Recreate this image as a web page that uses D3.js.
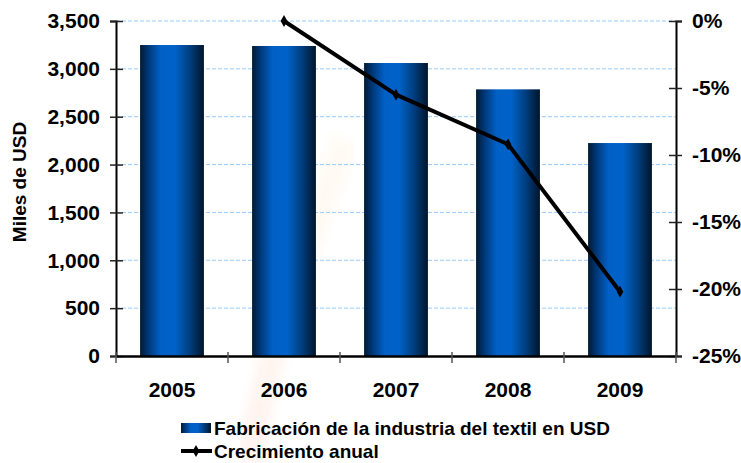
<!DOCTYPE html>
<html>
<head>
<meta charset="utf-8">
<script src="https://cdn.jsdelivr.net/npm/d3@7"></script>
<style>
  body { margin: 0; background: #fff; }
  text { font-family: "Liberation Sans", Arial, sans-serif; font-weight: bold; fill: #000; }
</style>
</head>
<body>
<div id="chart"></div>
<script>
const years = ['2005', '2006', '2007', '2008', '2009'];
const produccion = [3249, 3239, 3061, 2786, 2225];
const crecimiento = [null, 0, -5.5, -9.2, -20.2];
const leftTicks = [0, 500, 1000, 1500, 2000, 2500, 3000, 3500];
const rightTicks = [-25, -20, -15, -10, -5, 0];

const width = 741, height = 463;
const plot = { left: 116, right: 676, top: 21, bottom: 356 };

const svg = d3.select('#chart').append('svg')
  .attr('width', width)
  .attr('height', height);

const defs = svg.append('defs');
const grad = defs.append('linearGradient').attr('id', 'barGrad')
  .attr('x1', '0%').attr('x2', '100%').attr('y1', '0%').attr('y2', '0%');
[['0%', '#001a35'], ['12%', '#003572'], ['32%', '#0060c6'], ['55%', '#0062c8'],
 ['80%', '#003a78'], ['100%', '#00142b']].forEach(s => {
  grad.append('stop').attr('offset', s[0]).attr('stop-color', s[1]);
});
const wm = defs.append('linearGradient').attr('id', 'wmGrad')
  .attr('x1', '0%').attr('x2', '0%').attr('y1', '0%').attr('y2', '100%');
wm.append('stop').attr('offset', '0%').attr('stop-color', '#ffcc66');
wm.append('stop').attr('offset', '100%').attr('stop-color', '#ff5533');
defs.append('filter').attr('id', 'soft')
  .append('feGaussianBlur').attr('stdDeviation', 5);

// faint watermark
svg.append('path')
  .attr('d', 'M250,463 C260,380 300,260 345,140')
  .attr('fill', 'none')
  .attr('stroke', 'url(#wmGrad)')
  .attr('stroke-width', 26)
  .attr('filter', 'url(#soft)')
  .attr('opacity', 0.07);

const x = d3.scaleBand()
  .domain(years)
  .range([plot.left, plot.right])
  .paddingInner(0.43)
  .paddingOuter(0.215);

const y = d3.scaleLinear().domain([0, 3500]).range([plot.bottom, plot.top]);
const y2 = d3.scaleLinear().domain([-25, 0]).range([plot.bottom, plot.top]);

// gridlines
svg.append('g')
  .selectAll('line')
  .data(leftTicks.filter(d => d > 0))
  .enter().append('line')
  .attr('x1', plot.left).attr('x2', plot.right)
  .attr('y1', d => y(d)).attr('y2', d => y(d))
  .attr('stroke', '#99ccff')
  .attr('stroke-width', 1)
  .attr('stroke-dasharray', '4,2');

// bars
svg.append('g')
  .selectAll('rect')
  .data(produccion)
  .enter().append('rect')
  .attr('x', (d, i) => x(years[i]))
  .attr('y', d => y(d))
  .attr('width', x.bandwidth())
  .attr('height', d => y(0) - y(d))
  .attr('fill', 'url(#barGrad)');

// left axis
const yAxis = svg.append('g')
  .attr('transform', `translate(${plot.left},0)`)
  .call(d3.axisLeft(y).tickValues(leftTicks).tickFormat(d3.format(',')).tickSize(6).tickPadding(10));
yAxis.select('.domain').attr('stroke', '#000').attr('stroke-width', 2);
yAxis.selectAll('.tick line').attr('x1', 7).attr('x2', -6).attr('stroke', '#222').attr('stroke-width', 1.5);
yAxis.selectAll('.tick text').attr('font-size', '21px').attr('font-family', '"Liberation Sans", Arial, sans-serif').attr('font-weight', 'bold');

// right axis
const y2Axis = svg.append('g')
  .attr('transform', `translate(${plot.right},0)`)
  .call(d3.axisRight(y2).tickValues(rightTicks).tickFormat(d => d + '%').tickSize(6).tickPadding(10));
y2Axis.select('.domain').attr('stroke', '#000').attr('stroke-width', 2);
y2Axis.selectAll('.tick line').attr('x1', -7).attr('x2', 6).attr('stroke', '#222').attr('stroke-width', 1.5);
y2Axis.selectAll('.tick text').attr('font-size', '21px').attr('font-family', '"Liberation Sans", Arial, sans-serif').attr('font-weight', 'bold');

// bottom axis
const xAxis = svg.append('g')
  .attr('transform', `translate(0,${plot.bottom})`)
  .call(d3.axisBottom(x).tickSize(0).tickPadding(26));
xAxis.select('.domain').attr('stroke', '#000').attr('stroke-width', 2.5);
xAxis.selectAll('.tick text').attr('font-size', '21px').attr('font-family', '"Liberation Sans", Arial, sans-serif').attr('font-weight', 'bold');
xAxis.selectAll('.sep')
  .data(d3.range(years.length + 1))
  .enter().append('line')
  .attr('x1', i => plot.left + i * x.step())
  .attr('x2', i => plot.left + i * x.step())
  .attr('y1', -4).attr('y2', 7)
  .attr('stroke', '#555')
  .attr('stroke-width', 1.5);

// line
const pts = crecimiento.map((v, i) => ({ year: years[i], v })).filter(d => d.v !== null);
const line = d3.line()
  .x(d => x(d.year) + x.bandwidth() / 2)
  .y(d => y2(d.v));

svg.append('path')
  .datum(pts)
  .attr('fill', 'none')
  .attr('stroke', '#000')
  .attr('stroke-width', 4)
  .attr('stroke-linejoin', 'round')
  .attr('d', line);

svg.selectAll('.marker')
  .data(pts)
  .enter().append('path')
  .attr('d', d3.symbol().type(d3.symbolDiamond).size(40))
  .attr('transform', d => `translate(${x(d.year) + x.bandwidth() / 2},${y2(d.v)})`)
  .attr('fill', '#000');

// axis title
svg.append('text')
  .attr('transform', 'rotate(-90)')
  .attr('x', -182)
  .attr('y', 26)
  .attr('text-anchor', 'middle')
  .attr('font-size', '19px')
  .text('Miles de USD');

// legend
const legend = svg.append('g');
legend.append('rect')
  .attr('x', 181).attr('y', 423)
  .attr('width', 30).attr('height', 10)
  .attr('fill', 'url(#barGrad)');
legend.append('text')
  .attr('x', 214).attr('y', 435)
  .attr('font-size', '19px')
  .text('Fabricación de la industria del textil en USD');
legend.append('line')
  .attr('x1', 181).attr('x2', 212)
  .attr('y1', 451).attr('y2', 451)
  .attr('stroke', '#000').attr('stroke-width', 4);
legend.append('path')
  .attr('d', d3.symbol().type(d3.symbolDiamond).size(40))
  .attr('transform', 'translate(196,451)')
  .attr('fill', '#000');
legend.append('text')
  .attr('x', 214).attr('y', 458)
  .attr('font-size', '19px')
  .text('Crecimiento anual');
</script>
</body>
</html>
